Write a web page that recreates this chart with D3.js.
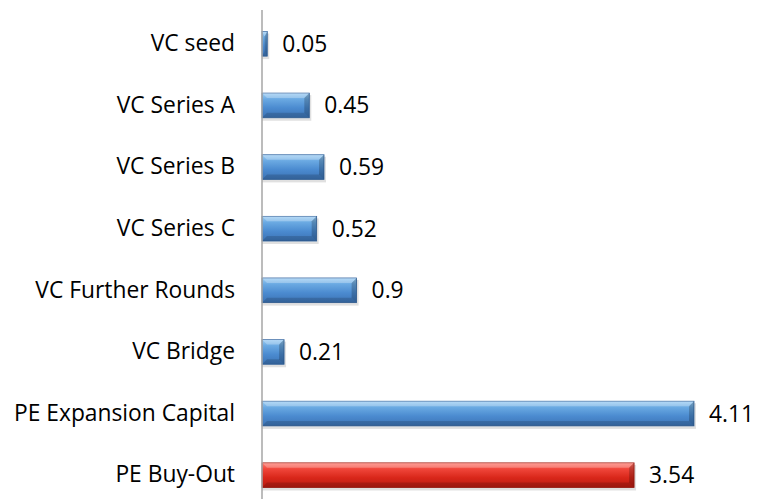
<!DOCTYPE html>
<html>
<head>
<meta charset="utf-8">
<script src="https://cdn.jsdelivr.net/npm/d3@7"></script>
<style>
  body { margin: 0; background: #fff; }
  svg { display: block; }
</style>
</head>
<body>
<div id="vis"></div>
<script>
const FRAME_WIDTH = 757;
const FRAME_HEIGHT = 499;

// data
const categories = ["VC seed", "VC Series A", "VC Series B", "VC Series C",
                    "VC Further Rounds", "VC Bridge", "PE Expansion Capital", "PE Buy-Out"];
const values = [0.05, 0.45, 0.59, 0.52, 0.9, 0.21, 4.11, 3.54];
const highlighted = ["PE Buy-Out"];

const AXIS_X = 262;
const FONT = "Open Sans, sans-serif";
const FONT_SIZE = "22.8px";
const X_SCALE = d3.scaleLinear().domain([0, 4.11]).range([AXIS_X, 694]);
const Y_SCALE = d3.scaleBand().domain(categories).range([13, 506]).paddingInner(0.6).paddingOuter(0.3);

const svg = d3.select("#vis").append("svg")
  .attr("width", FRAME_WIDTH)
  .attr("height", FRAME_HEIGHT);

const defs = svg.append("defs");
function grad(id, stops) {
  const g = defs.append("linearGradient").attr("id", id)
    .attr("x1", 0).attr("y1", 0).attr("x2", 0).attr("y2", 1);
  stops.forEach(s => g.append("stop").attr("offset", s[0]).attr("stop-color", s[1]));
}
grad("blue", [[0, "#9ccdf3"], [0.25, "#6aa9e2"], [0.6, "#4b8bd0"], [1, "#3c73b5"]]);
grad("red", [[0, "#ff7a6e"], [0.25, "#f0463a"], [0.6, "#d9271a"], [1, "#b81a10"]]);

const data = categories.map((c, i) => ({cat: c, value: values[i]}));
const bh = Y_SCALE.bandwidth();
const bev = 5;

const bars = svg.selectAll("g.bar").data(data).enter().append("g").attr("class", "bar");

// shadow
bars.append("rect")
  .attr("x", AXIS_X)
  .attr("y", d => Y_SCALE(d.cat) + 2)
  .attr("width", d => X_SCALE(d.value) - AXIS_X + 2)
  .attr("height", bh + 1)
  .attr("fill", "#000").attr("opacity", 0.12);

bars.append("rect")
  .attr("x", AXIS_X)
  .attr("y", d => Y_SCALE(d.cat))
  .attr("width", d => X_SCALE(d.value) - AXIS_X)
  .attr("height", bh)
  .attr("fill", d => highlighted.includes(d.cat) ? "url(#red)" : "url(#blue)")
  .attr("stroke", d => highlighted.includes(d.cat) ? "#9e1a10" : "#3566a0")
  .attr("stroke-width", 0.8);

// bevel edges
bars.append("path")
  .attr("d", d => {
    const x0 = AXIS_X, x1 = X_SCALE(d.value), y0 = Y_SCALE(d.cat), y1 = y0 + bh;
    const b = Math.min(bev, (x1 - x0) / 2);
    return `M${x0},${y0}L${x1},${y0}L${x1 - b},${y0 + bev}L${x0 + b},${y0 + bev}Z`;
  })
  .attr("fill", "#fff").attr("opacity", 0.25);

bars.append("path")
  .attr("d", d => {
    const x0 = AXIS_X, x1 = X_SCALE(d.value), y0 = Y_SCALE(d.cat), y1 = y0 + bh;
    const b = Math.min(bev, (x1 - x0) / 2);
    return `M${x1},${y0}L${x1},${y1}L${x1 - b},${y1 - bev}L${x1 - b},${y0 + bev}Z`;
  })
  .attr("fill", "#000").attr("opacity", 0.2);

bars.append("path")
  .attr("d", d => {
    const x0 = AXIS_X, x1 = X_SCALE(d.value), y0 = Y_SCALE(d.cat), y1 = y0 + bh;
    const b = Math.min(bev, (x1 - x0) / 2);
    return `M${x0},${y1}L${x1},${y1}L${x1 - b},${y1 - bev}L${x0 + b},${y1 - bev}Z`;
  })
  .attr("fill", "#000").attr("opacity", 0.15);

// value labels
bars.append("text")
  .attr("x", d => X_SCALE(d.value) + 15)
  .attr("y", d => Y_SCALE(d.cat) + bh / 2)
  .attr("dy", "0.35em")
  .attr("font-family", FONT)
  .attr("font-size", FONT_SIZE)
  .attr("fill", "#000")
  .text(d => d.value);

// category axis
const yAxis = svg.append("g")
  .attr("transform", "translate(" + AXIS_X + ",0)")
  .call(d3.axisLeft(Y_SCALE).tickSize(0).tickPadding(27));
yAxis.select(".domain").attr("d", "M0,10V499").attr("stroke", "#a6a6a6").attr("stroke-width", 1.5);
yAxis.selectAll("text")
  .attr("font-family", FONT)
  .attr("font-size", FONT_SIZE)
  .attr("fill", "#000");
</script>
</body>
</html>
